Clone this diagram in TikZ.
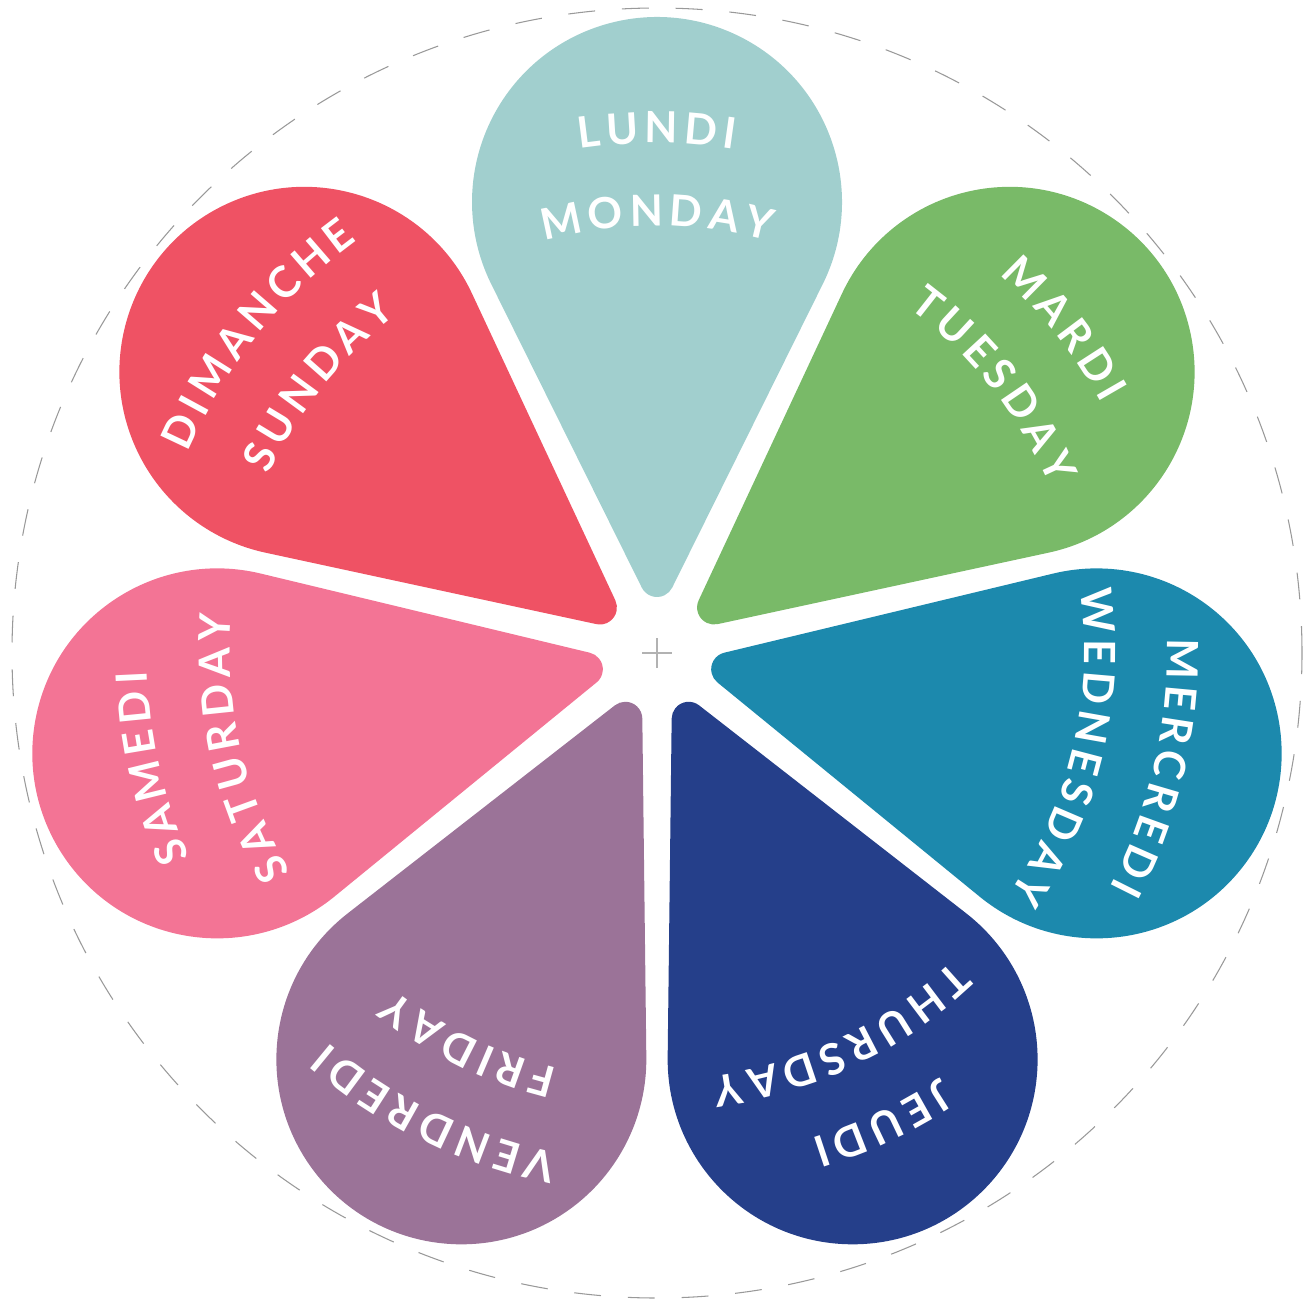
\documentclass[tikz,border=0pt]{standalone}
\usepackage{fontspec}
\newfontfamily\daysfamily{Lato}
\newcommand{\dayfont}{\daysfamily\bfseries\fontsize{24.5pt}{26pt}\selectfont}
\newcommand{\lsp}{\kern3.2pt}
\usetikzlibrary{decorations.text}
\definecolor{lundi}{HTML}{A1CFCE}
\definecolor{mardi}{HTML}{79BA68}
\definecolor{mercredi}{HTML}{1C89AD}
\definecolor{jeudi}{HTML}{253F8A}
\definecolor{vendredi}{HTML}{9B7398}
\definecolor{samedi}{HTML}{F37495}
\definecolor{dimanche}{HTML}{EF5264}
\begin{document}
\begin{tikzpicture}[x=0.02cm,y=0.02cm,
				rim/.style={draw=black!40,line width=0.6pt,dash pattern=on 15.3pt off 15.3pt},
				cross/.style={draw=black!30,line width=0.7pt},
				daytext/.style={decorate,decoration={text along path,text align=center,text color=white,text={|\dayfont|#1}}},
				pics/petal/.style n args={3}{code={
					\fill[#1] ([shift={(0,73)}]206.4:17) arc[start angle=206.4,end angle=333.6,radius=17]
						-- ([shift={(0,451)}]-26.4:185) arc[start angle=-26.4,end angle=206.4,radius=185] -- cycle;
					\path[daytext={#2}] (125:510) arc[start angle=125,end angle=55,radius=510];
					\path[daytext={#3}] (135:427) arc[start angle=135,end angle=45,radius=427];
				}}]
\useasboundingbox (-657,-646) rectangle (657,653);
\draw[rim] (0,0) circle[radius=645];
\draw[cross] (-15,0) -- (15,0) (0,-15) -- (0,15);
\pic {petal={lundi}{{L\lsp}{U\lsp}{N\lsp}{D\lsp}I}{{M\lsp}{O\lsp}{N\lsp}{D\lsp}{A\lsp}Y}};
\pic[rotate=-51.43] {petal={mardi}{{M\lsp}{A\lsp}{R\lsp}{D\lsp}I}{{T\lsp}{U\lsp}{E\lsp}{S\lsp}{D\lsp}{A\lsp}Y}};
\pic[rotate=-102.86] {petal={mercredi}{{M\lsp}{E\lsp}{R\lsp}{C\lsp}{R\lsp}{E\lsp}{D\lsp}I}{{W\lsp}{E\lsp}{D\lsp}{N\lsp}{E\lsp}{S\lsp}{D\lsp}{A\lsp}Y}};
\pic[rotate=-154.29] {petal={jeudi}{{J\lsp}{E\lsp}{U\lsp}{D\lsp}I}{{T\lsp}{H\lsp}{U\lsp}{R\lsp}{S\lsp}{D\lsp}{A\lsp}Y}};
\pic[rotate=-205.71] {petal={vendredi}{{V\lsp}{E\lsp}{N\lsp}{D\lsp}{R\lsp}{E\lsp}{D\lsp}I}{{F\lsp}{R\lsp}{I\lsp}{D\lsp}{A\lsp}Y}};
\pic[rotate=-257.14] {petal={samedi}{{S\lsp}{A\lsp}{M\lsp}{E\lsp}{D\lsp}I}{{S\lsp}{A\lsp}{T\lsp}{U\lsp}{R\lsp}{D\lsp}{A\lsp}Y}};
\pic[rotate=-308.57] {petal={dimanche}{{D\lsp}{I\lsp}{M\lsp}{A\lsp}{N\lsp}{C\lsp}{H\lsp}E}{{S\lsp}{U\lsp}{N\lsp}{D\lsp}{A\lsp}Y}};
\end{tikzpicture}
\end{document}
